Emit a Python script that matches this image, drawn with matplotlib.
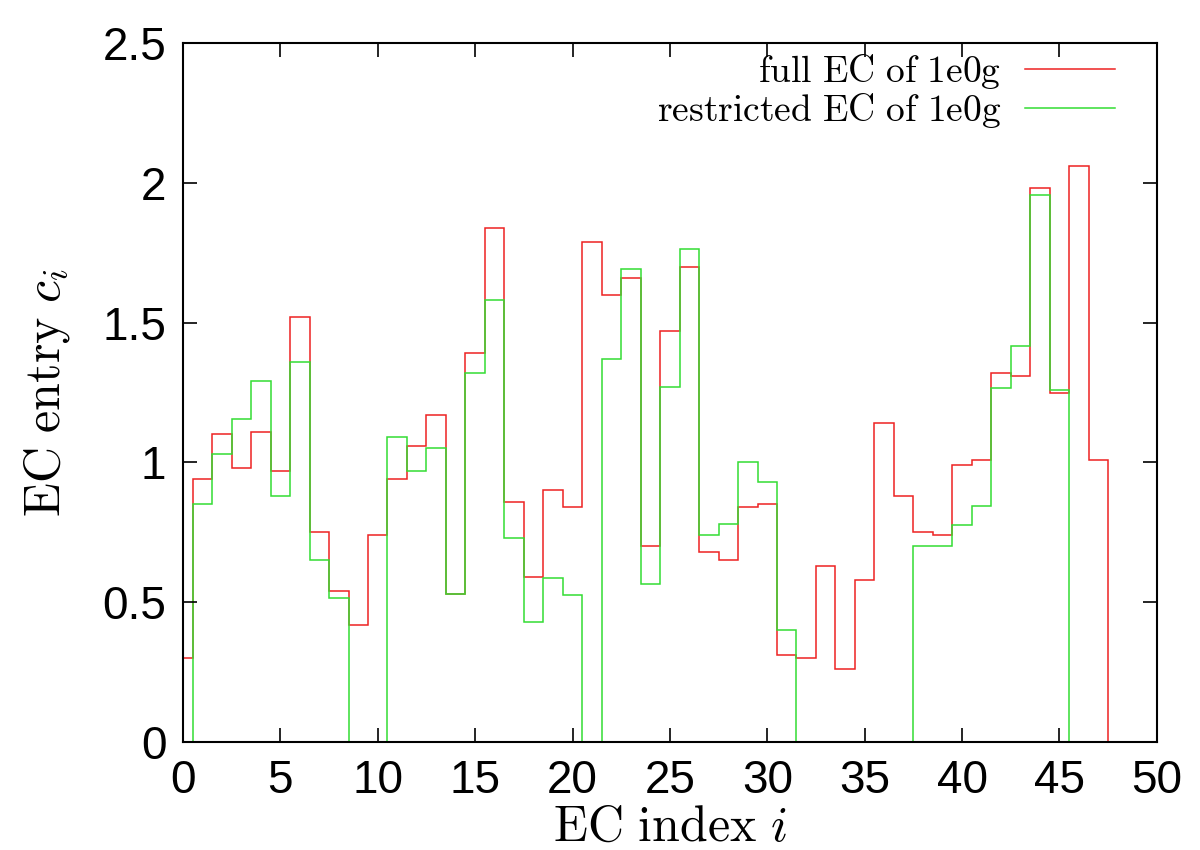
import numpy as np
import matplotlib
matplotlib.use("Agg")
import matplotlib.pyplot as plt

# EC entries per index i
ec_index = np.arange(48)
full_ec = [0.30, 0.94, 1.10, 0.98, 1.11, 0.97, 1.52, 0.75, 0.54, 0.42,
           0.74, 0.94, 1.06, 1.17, 0.53, 1.39, 1.84, 0.86, 0.59, 0.90,
           0.84, 1.79, 1.60, 1.66, 0.70, 1.47, 1.70, 0.68, 0.65, 0.84,
           0.85, 0.31, 0.30, 0.63, 0.26, 0.58, 1.14, 0.88, 0.75, 0.74,
           0.99, 1.01, 1.32, 1.31, 1.98, 1.25, 2.06, 1.01]
restricted_ec = [0.00, 0.85, 1.03, 1.155, 1.29, 0.88, 1.36, 0.65, 0.515, 0.00,
                 0.00, 1.09, 0.97, 1.05, 0.53, 1.32, 1.58, 0.73, 0.43, 0.585,
                 0.525, 0.00, 1.37, 1.69, 0.565, 1.27, 1.765, 0.74, 0.78, 1.00,
                 0.93, 0.40, 0.00, 0.00, 0.00, 0.00, 0.00, 0.00, 0.70, 0.70,
                 0.775, 0.845, 1.265, 1.415, 1.955, 1.26, 0.00, 0.00]
x_ticks = np.arange(0, 51, 5)
y_ticks = [0, 0.5, 1, 1.5, 2, 2.5]
y_ticklabels = ['0', '0.5', '1', '1.5', '2', '2.5']

plt.rcParams['mathtext.fontset'] = 'cm'
tick_font = ['Liberation Sans', 'DejaVu Sans']

fig = plt.figure(figsize=(12, 8.5), dpi=100)
ax = fig.add_axes([0.1525, 0.127, 0.8115, 0.8224])

# histogram-like steps centred on each index
edges = np.append(ec_index - 0.5, ec_index[-1] + 0.5)
ax.stairs(full_ec, edges, color='#ee2222', linewidth=1.1, label=r'$\mathrm{full\ EC\ of\ 1e0g}$')
ax.stairs(restricted_ec, edges, color='#33dd33', linewidth=1.1, label=r'$\mathrm{restricted\ EC\ of\ 1e0g}$')

ax.set_xlim(0, 50)
ax.set_ylim(0, 2.5)
ax.set_xticks(x_ticks)
ax.set_yticks(y_ticks)
ax.set_yticklabels(y_ticklabels)
ax.tick_params(direction='in', length=10, width=1.2, top=True, right=True,
               labelsize=33, pad=12)
for lab in ax.get_xticklabels() + ax.get_yticklabels():
    lab.set_family(tick_font)
for s in ax.spines.values():
    s.set_linewidth(1.5)

ax.set_xlabel(r'$\mathrm{EC\ index}\ i$', fontsize=36, labelpad=0)
ax.set_ylabel(r'$\mathrm{EC\ entry}\ c_i$', fontsize=36, labelpad=22)

ax.legend(loc='upper right', bbox_to_anchor=(0.957, 0.987), frameon=False,
          markerfirst=False, fontsize=27, handlelength=2.4, labelspacing=0.0,
          borderaxespad=0, borderpad=0, handletextpad=0.63)

fig.savefig('out.png', dpi=100)
